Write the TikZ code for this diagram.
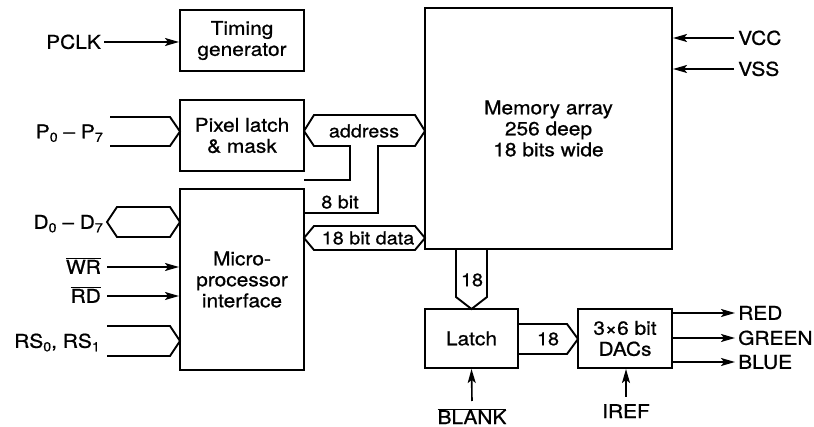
\documentclass[tikz,border=0pt]{standalone}
\usepackage{fontspec}
\setmainfont[FakeStretch=1.1,FakeBold=0.8]{TeX Gyre Heros}
\usetikzlibrary{arrows.meta,calc}
\newcommand\fsz{\fontsize{19}{21}\selectfont}
\newcommand\fbus{\fontsize{18}{20}\selectfont}
\newcommand\sbs[1]{\raisebox{-0.35ex}{\fontsize{13}{13}\selectfont #1}}
\newcommand\ovl[1]{$\overline{\hbox{#1}}$}
\begin{document}
\begin{tikzpicture}[x=1pt,y=-1pt,
  box/.style={draw, line width=2pt, align=center, font=\fsz, inner sep=0pt},
  lbl/.style={font=\fsz, inner sep=0pt, text height=13.6pt, text depth=0pt},
  buslbl/.style={font=\fbus, inner sep=0pt},
  arr/.style={-{Stealth[length=14pt,width=8pt,inset=3pt]}, line width=1.6pt},
  bus/.style={line width=1.9pt, line join=miter}]
\useasboundingbox (0,0) rectangle (814,427);

% blocks
\node[box, minimum width=124pt, minimum height=61pt] (tg) at (242,40.5) {Timing\\generator};
\node[box, minimum width=124pt, minimum height=71pt] (pl) at (242,135.5) {Pixel latch\\\& mask};
\node[box, minimum width=124pt, minimum height=181pt] (mp) at (242,279.5) {Micro-\\processor\\interface};
\node[box, minimum width=247pt, minimum height=241pt] (mem) at (548.5,128.5) {Memory array\\256 deep\\18 bits wide};
\node[box, minimum width=93pt, minimum height=59pt] (lat) at (471.5,338.5) {Latch};
\node[box, minimum width=94pt, minimum height=59pt] (dac) at (625,338.5) {3×6 bit\\DACs};

% left labels
\node[lbl, anchor=east] (pclk) at (101,42) {PCLK};
\node[lbl, anchor=east] (pp) at (103,131.5) {P\sbs{0} -- P\sbs{7}};
\node[lbl, anchor=east] (dd) at (103,222) {D\sbs{0} -- D\sbs{7}};
\node[lbl, anchor=east] (wr) at (101,267) {\ovl{WR}};
\node[lbl, anchor=east] (rd) at (101,296) {\ovl{RD}};
\node[lbl, anchor=east] (rs) at (100,341) {RS\sbs{0}, RS\sbs{1}};

\draw[arr] ([xshift=3pt]pclk.east) -- (pclk.east -| tg.west);
\draw[arr] ([xshift=6pt]wr.east) -- (wr.east -| mp.west);
\draw[arr] ([xshift=6pt]rd.east) -- (rd.east -| mp.west);

% left buses
\draw[bus] (110,117) -- (170,117) -- (180,131.5) -- (170,146) -- (110,146);
\draw[bus] (107,222) -- (117,207) -- (170,207) -- (180,222) -- (170,237) -- (117,237) -- cycle;
\draw[bus] (107,326) -- (170,326) -- (180,341) -- (170,356) -- (107,356);

% address bus
\draw[bus] (304,131) -- (314,115) -- (415,115) -- (425,131) -- (415,146) -- (378,146) -- (378,213) -- (304,213);
\draw[bus] (304,180) -- (350,180) -- (350,146) -- (314,146) -- (304,131);
\node[buslbl] (addr) at (364,131) {address};
\node[buslbl] (eight) at (340,202) {8 bit};

% data bus
\draw[bus] (304,238) -- (314,226) -- (415,226) -- (425,238) -- (415,250) -- (314,250) -- cycle;
\node[buslbl] (data) at (368,238) {18 bit data};

% memory -> latch
\draw[bus] (456,249) -- (456,297) -- (471.5,309) -- (487,297) -- (487,249);
\node[buslbl] (n18a) at (472,280) {18};

% latch -> dac
\draw[bus] (518,324) -- (567,324) -- (578,339) -- (567,354) -- (518,354);
\node[buslbl] (n18b) at (548,339) {18};

% right labels
\node[lbl, anchor=west] (vcc) at (738,38) {VCC};
\node[lbl, anchor=west] (vss) at (738,69) {VSS};
\draw[arr] ([xshift=-4pt]vcc.west) -- (vcc.west -| mem.east);
\draw[arr] ([xshift=-4pt]vss.west) -- (vss.west -| mem.east);

\node[lbl, anchor=west] (red) at (738,313) {RED};
\node[lbl, anchor=west] (green) at (738,338) {GREEN};
\node[lbl, anchor=west] (blue) at (738,362) {BLUE};
\draw[arr] (red.west -| dac.east) -- ([xshift=-3pt]red.west);
\draw[arr] (green.west -| dac.east) -- ([xshift=-3pt]green.west);
\draw[arr] (blue.west -| dac.east) -- ([xshift=-3pt]blue.west);

% bottom labels
\node[font=\fsz, inner sep=0pt, anchor=north] (blank) at (472,408) {\ovl{BLANK}};
\node[font=\fsz, inner sep=0pt, anchor=north] (iref) at (626,404) {IREF};
\draw[arr] ([yshift=7pt]blank.north) -- (lat.south);
\draw[arr] ([yshift=7pt]iref.north) -- (iref.north |- dac.south);
\end{tikzpicture}
\end{document}
